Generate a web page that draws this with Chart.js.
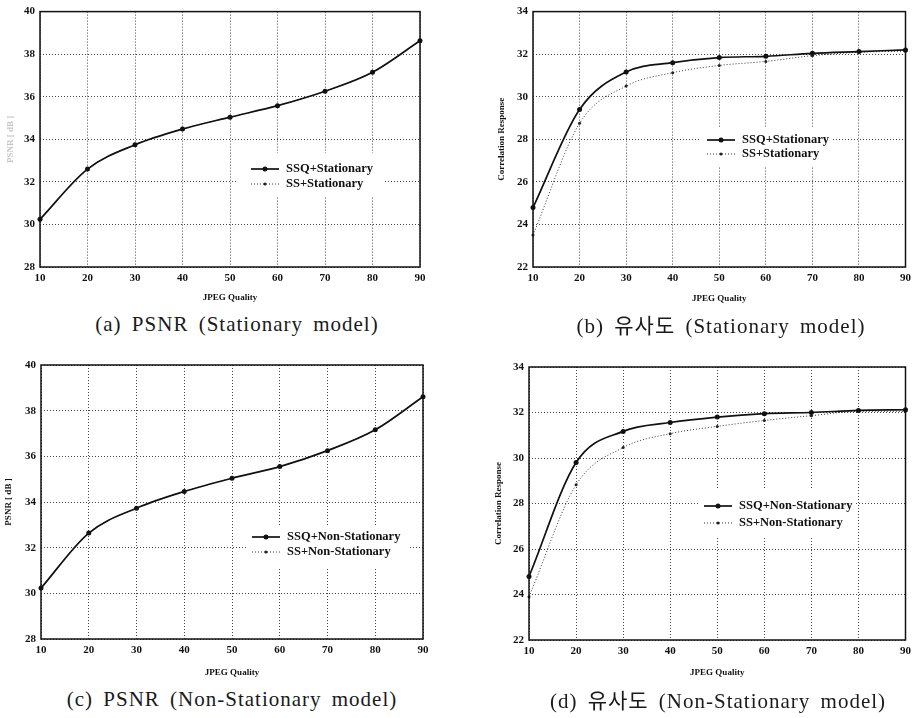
<!DOCTYPE html>
<html>
<head>
<meta charset="utf-8">
<script src="https://cdn.jsdelivr.net/npm/chart.js@4"></script>
<style>
  body { margin: 0; background: #fff; width: 916px; height: 718px; position: relative; overflow: hidden; }
  canvas { position: absolute; }
  .cap {
    position: absolute; white-space: nowrap; color: #1a1a1a;
    font: 21px "Liberation Serif", "Noto Sans CJK KR", serif;
    letter-spacing: 1px; word-spacing: 4px;
    transform: translate(-50%, -50%);
  }
</style>
</head>
<body>
<canvas id="chartA" width="432" height="310" style="left:0;top:0"></canvas>
<canvas id="chartB" width="426" height="310" style="left:490px;top:0"></canvas>
<canvas id="chartC" width="435" height="335" style="left:0;top:350px"></canvas>
<canvas id="chartD" width="426" height="335" style="left:490px;top:350px"></canvas>

<div class="cap" style="left:237px;top:324px">(a) PSNR (Stationary model)</div>
<div class="cap" style="left:721px;top:324px">(b) 유사도 (Stationary model)</div>
<div class="cap" style="left:232px;top:699px">(c) PSNR (Non-Stationary model)</div>
<div class="cap" style="left:718px;top:699px">(d) 유사도 (Non-Stationary model)</div>

<script>
// JPEG quality settings (x axis)
const quality = [10, 20, 30, 40, 50, 60, 70, 80, 90];

// (a) PSNR, stationary model
const psnrStatSSQ = [30.24, 32.6, 33.74, 34.48, 35.04, 35.58, 36.26, 37.15, 38.63];
const psnrStatSS  = [30.24, 32.6, 33.74, 34.48, 35.04, 35.58, 36.26, 37.15, 38.63];

// (b) correlation response, stationary model
const corrStatSSQ = [24.79, 29.4, 31.16, 31.6, 31.84, 31.9, 32.04, 32.12, 32.2];
const corrStatSS  = [23.5, 28.75, 30.5, 31.13, 31.47, 31.66, 31.93, 32.09, 32.14];

// (c) PSNR, non-stationary model
const psnrNonSSQ = [30.23, 32.64, 33.73, 34.46, 35.04, 35.55, 36.25, 37.16, 38.61];
const psnrNonSS  = [30.23, 32.64, 33.73, 34.46, 35.04, 35.55, 36.25, 37.16, 38.61];

// (d) correlation response, non-stationary model
const corrNonSSQ = [24.79, 29.8, 31.17, 31.56, 31.8, 31.95, 32.0, 32.09, 32.12];
const corrNonSS  = [23.9, 28.82, 30.46, 31.07, 31.39, 31.65, 31.86, 32.05, 32.05];

const SERIF = '"Liberation Serif", "Times New Roman", serif';

function toPoints(values) {
  return quality.map((q, i) => ({ x: q, y: values[i] }));
}

// legend drawn in a white box inside the plot, like the paper figure
const boxLegend = {
  id: "boxLegend",
  afterDatasetsDraw(chart, args, opts) {
    if (!opts.box) return;
    const ctx = chart.ctx;
    const [bx, by, bw, bh] = opts.box;
    ctx.save();
    ctx.fillStyle = "#fff";
    ctx.fillRect(bx, by, bw, bh);
    ctx.font = "bold 12.5px " + SERIF;
    ctx.textBaseline = "middle";
    chart.data.datasets.forEach((ds, i) => {
      const y = opts.row + i * opts.gap;
      const x0 = opts.sx, x1 = opts.sx + 28;
      ctx.strokeStyle = ds.borderColor;
      ctx.lineWidth = ds.borderWidth;
      ctx.setLineDash(ds.borderDash || []);
      ctx.beginPath();
      ctx.moveTo(x0, y);
      ctx.lineTo(x1, y);
      ctx.stroke();
      ctx.setLineDash([]);
      ctx.fillStyle = ds.pointBackgroundColor;
      ctx.beginPath();
      ctx.arc((x0 + x1) / 2, y, ds.pointRadius, 0, Math.PI * 2);
      ctx.fill();
      ctx.fillStyle = "#111";
      ctx.fillText(ds.label, x1 + 7, y);
    });
    ctx.restore();
  },
  afterDraw(chart) {
    const a = chart.chartArea;
    const ctx = chart.ctx;
    ctx.save();
    ctx.strokeStyle = "#111";
    ctx.lineWidth = 1.5;
    ctx.strokeRect(a.left, a.top, a.right - a.left, a.bottom - a.top);
    ctx.restore();
  }
};

function makeChart(id, cfg) {
  const tickFont = { family: SERIF, size: 11, weight: "bold" };
  const titleFont = { family: SERIF, size: 9, weight: "bold" };
  return new Chart(document.getElementById(id), {
    type: "line",
    data: {
      datasets: [
        {
          label: cfg.labels[0],
          data: toPoints(cfg.ssq),
          borderColor: "#111",
          borderWidth: 1.7,
          pointRadius: 2.5,
          pointBackgroundColor: "#111",
          pointBorderWidth: 0,
          cubicInterpolationMode: "monotone",
          clip: 8,
          order: 0
        },
        {
          label: cfg.labels[1],
          data: toPoints(cfg.ss),
          borderColor: "#333",
          borderWidth: 1,
          borderDash: [1, 2],
          pointRadius: 1.5,
          pointBackgroundColor: "#222",
          pointBorderWidth: 0,
          cubicInterpolationMode: "monotone",
          clip: 8,
          order: 1
        }
      ]
    },
    options: {
      responsive: false,
      animation: false,
      events: [],
      layout: { padding: { top: cfg.padTop, right: cfg.padRight, left: 0, bottom: 0 } },
      plugins: {
        legend: { display: false },
        tooltip: { enabled: false },
        boxLegend: cfg.legend
      },
      scales: {
        x: {
          type: "linear", min: 10, max: 90,
          ticks: { stepSize: 10, padding: 5, font: tickFont, color: "#111", maxRotation: 0 },
          grid: { color: "#444", lineWidth: 1, drawTicks: false },
          border: { display: false, dash: [1, 2] },
          title: { display: true, text: "JPEG Quality", font: titleFont, color: "#111",
                   padding: { top: 0, bottom: cfg.xTitlePad } },
          afterFit: (s) => { s.height = cfg.xHeight; }
        },
        y: {
          min: cfg.yMin, max: cfg.yMax,
          ticks: { stepSize: 2, padding: 5, font: tickFont, color: "#111" },
          grid: { color: "#444", lineWidth: 1, drawTicks: false },
          border: { display: false, dash: [1, 2] },
          title: { display: true, text: cfg.yTitle, font: titleFont, color: cfg.yTitleColor || "#111",
                   padding: { top: cfg.yTitlePad, bottom: 0 } },
          afterFit: (s) => { s.width = cfg.yWidth; }
        }
      }
    },
    plugins: [boxLegend]
  });
}

makeChart("chartA", {
  ssq: psnrStatSSQ, ss: psnrStatSS,
  labels: ["SSQ+Stationary", "SS+Stationary"],
  yMin: 28, yMax: 40, yTitle: "PSNR [ dB ]", yTitleColor: "#c4c4c4",
  padTop: 10, padRight: 12, yWidth: 40, xHeight: 43, xTitlePad: 7, yTitlePad: 5,
  legend: { box: [238, 153, 145, 44], sx: 251, row: 169, gap: 15 }
});

makeChart("chartB", {
  ssq: corrStatSSQ, ss: corrStatSS,
  labels: ["SSQ+Stationary", "SS+Stationary"],
  yMin: 22, yMax: 34, yTitle: "Correlation Response",
  padTop: 9, padRight: 6, yWidth: 43, xHeight: 43, xTitlePad: 6, yTitlePad: 6,
  legend: { box: [211, 128, 132, 39], sx: 217, row: 140, gap: 14 }
});

makeChart("chartC", {
  ssq: psnrNonSSQ, ss: psnrNonSS,
  labels: ["SSQ+Non-Stationary", "SS+Non-Stationary"],
  yMin: 28, yMax: 40, yTitle: "PSNR [ dB ]",
  padTop: 15, padRight: 12, yWidth: 41, xHeight: 46, xTitlePad: 7, yTitlePad: 3,
  legend: { box: [248, 175, 160, 43], sx: 252, row: 187, gap: 15 }
});

makeChart("chartD", {
  ssq: corrNonSSQ, ss: corrNonSS,
  labels: ["SSQ+Non-Stationary", "SS+Non-Stationary"],
  yMin: 22, yMax: 34, yTitle: "Correlation Response",
  padTop: 17, padRight: 8, yWidth: 39, xHeight: 45, xTitlePad: 7, yTitlePad: 3,
  legend: { box: [208, 140, 158, 47], sx: 214, row: 156, gap: 17 }
});
</script>
</body>
</html>
